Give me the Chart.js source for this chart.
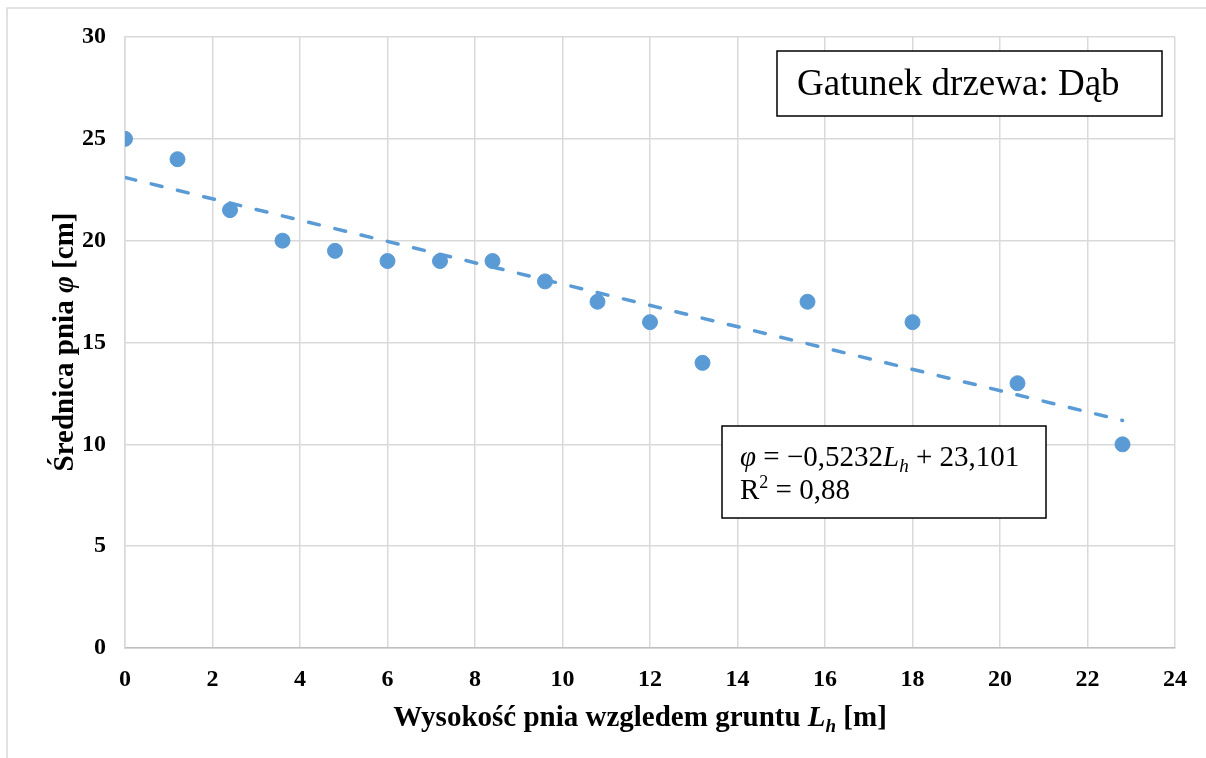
<!DOCTYPE html>
<html>
<head>
<meta charset="utf-8">
<script src="https://cdn.jsdelivr.net/npm/chart.js@4"></script>
<style>
  body { margin: 0; background: #fff; }
  canvas { display: block; }
</style>
</head>
<body>
<canvas id="myChart" width="1206" height="758"></canvas>
<script>
// pomiary: wysokość nad gruntem [m] i średnica pnia [cm]
const heights = [0, 1.2, 2.4, 3.6, 4.8, 6, 7.2, 8.4, 9.6, 10.8, 12, 13.2, 15.6, 18, 20.4, 22.8];
const diameters = [25, 24, 21.5, 20, 19.5, 19, 19, 19, 18, 17, 16, 14, 17, 16, 13, 10];

// linia trendu z równania φ = −0,5232 Lh + 23,101
const slope = -0.5232;
const intercept = 23.101;
const trendRange = [0, 22.8];

const xTicks = [0, 24, 2];
const yTicks = [0, 30, 5];

const FONT = "'Liberation Serif', 'Times New Roman', serif";
const BLUE = '#5B9BD5';

const points = heights.map((h, i) => ({ x: h, y: diameters[i] }));
const trend = trendRange.map(h => ({ x: h, y: slope * h + intercept }));

// rysuje tekst złożony z kawałków o różnym stylu
function drawRuns(ctx, runs, x, y, align) {
    let total = 0;
    runs.forEach(r => {
        ctx.font = r.font;
        r.w = ctx.measureText(r.text).width;
        total += r.w;
    });
    let cx = align === 'center' ? x - total / 2 : x;
    runs.forEach(r => {
        ctx.font = r.font;
        ctx.fillText(r.text, cx, y + (r.dy || 0));
        cx += r.w;
    });
}

const extras = {
    id: 'extras',
    beforeDraw(chart) {
        const ctx = chart.ctx;
        ctx.save();
        ctx.fillStyle = '#fff';
        ctx.fillRect(0, 0, chart.width, chart.height);
        ctx.strokeStyle = '#d9d9d9';
        ctx.lineWidth = 1.5;
        ctx.strokeRect(7, 8, 1300, 900);
        ctx.restore();
    },
    afterDraw(chart) {
        const ctx = chart.ctx;
        ctx.save();
        ctx.fillStyle = '#000';
        ctx.textBaseline = 'alphabetic';
        ctx.textAlign = 'left';

        // tytuł osi X
        drawRuns(ctx, [
            { text: 'Wysokość pnia wzgledem gruntu ', font: 'bold 29px ' + FONT },
            { text: 'L', font: 'italic bold 29px ' + FONT },
            { text: 'h', font: 'italic bold 19px ' + FONT, dy: 6 },
            { text: ' [m]', font: 'bold 29px ' + FONT }
        ], 640, 726, 'center');

        // tytuł osi Y
        ctx.save();
        ctx.translate(73, 342);
        ctx.rotate(-Math.PI / 2);
        drawRuns(ctx, [
            { text: 'Średnica pnia ', font: 'bold 29px ' + FONT },
            { text: 'φ', font: 'italic bold 29px ' + FONT },
            { text: ' [cm]', font: 'bold 29px ' + FONT }
        ], 0, 0, 'center');
        ctx.restore();

        // ramka z gatunkiem drzewa
        ctx.fillStyle = '#fff';
        ctx.fillRect(777, 51, 385, 65);
        ctx.strokeStyle = '#000';
        ctx.lineWidth = 1.5;
        ctx.strokeRect(777, 51, 385, 65);
        ctx.fillStyle = '#000';
        ctx.font = '37px ' + FONT;
        ctx.fillText('Gatunek drzewa: Dąb', 797, 95);

        // ramka z równaniem trendu
        ctx.fillStyle = '#fff';
        ctx.fillRect(722, 426, 324, 92);
        ctx.strokeRect(722, 426, 324, 92);
        ctx.fillStyle = '#000';
        drawRuns(ctx, [
            { text: 'φ', font: 'italic 29px ' + FONT },
            { text: ' = −0,5232', font: '29px ' + FONT },
            { text: 'L', font: 'italic 29px ' + FONT },
            { text: 'h', font: 'italic 19px ' + FONT, dy: 6 },
            { text: ' + 23,101', font: '29px ' + FONT }
        ], 740, 466, 'left');
        drawRuns(ctx, [
            { text: 'R', font: '29px ' + FONT },
            { text: '2', font: '18px ' + FONT, dy: -11 },
            { text: ' = 0,88', font: '29px ' + FONT }
        ], 740, 499, 'left');
        ctx.restore();
    }
};

const data = {
    datasets: [{
        type: 'line',
        label: 'trend',
        data: trend,
        borderColor: BLUE,
        borderWidth: 3.5,
        borderDash: [11, 16],
        borderCapStyle: 'round',
        pointRadius: 0,
        fill: false
    },
    {
        type: 'scatter',
        label: 'pomiary',
        data: points,
        backgroundColor: BLUE,
        borderColor: BLUE,
        pointRadius: 7.5,
        pointHoverRadius: 7.5
    }]
};

const config = {
    type: 'scatter',
    data: data,
    options: {
        responsive: false,
        animation: false,
        layout: { padding: { left: 0, right: 31, top: 37, bottom: 0 } },
        plugins: {
            legend: { display: false },
            tooltip: { enabled: false }
        },
        scales: {
            x: {
                type: 'linear',
                min: xTicks[0],
                max: xTicks[1],
                afterFit: s => { s.height = 110; },
                ticks: {
                    stepSize: xTicks[2],
                    padding: 17,
                    color: '#000',
                    font: { family: FONT, size: 24, weight: 'bold' }
                },
                grid: { color: '#d9d9d9', lineWidth: 1.5, drawTicks: false },
                border: { color: '#bfbfbf', width: 1.5 }
            },
            y: {
                min: yTicks[0],
                max: yTicks[1],
                afterFit: s => { s.width = 125; },
                ticks: {
                    stepSize: yTicks[2],
                    padding: 19,
                    color: '#000',
                    font: { family: FONT, size: 24, weight: 'bold' }
                },
                grid: { color: '#d9d9d9', lineWidth: 1.5, drawTicks: false },
                border: { color: '#d9d9d9', width: 1.5 }
            }
        }
    },
    plugins: [extras]
};

const myChart = new Chart(document.getElementById('myChart'), config);
</script>
</body>
</html>
